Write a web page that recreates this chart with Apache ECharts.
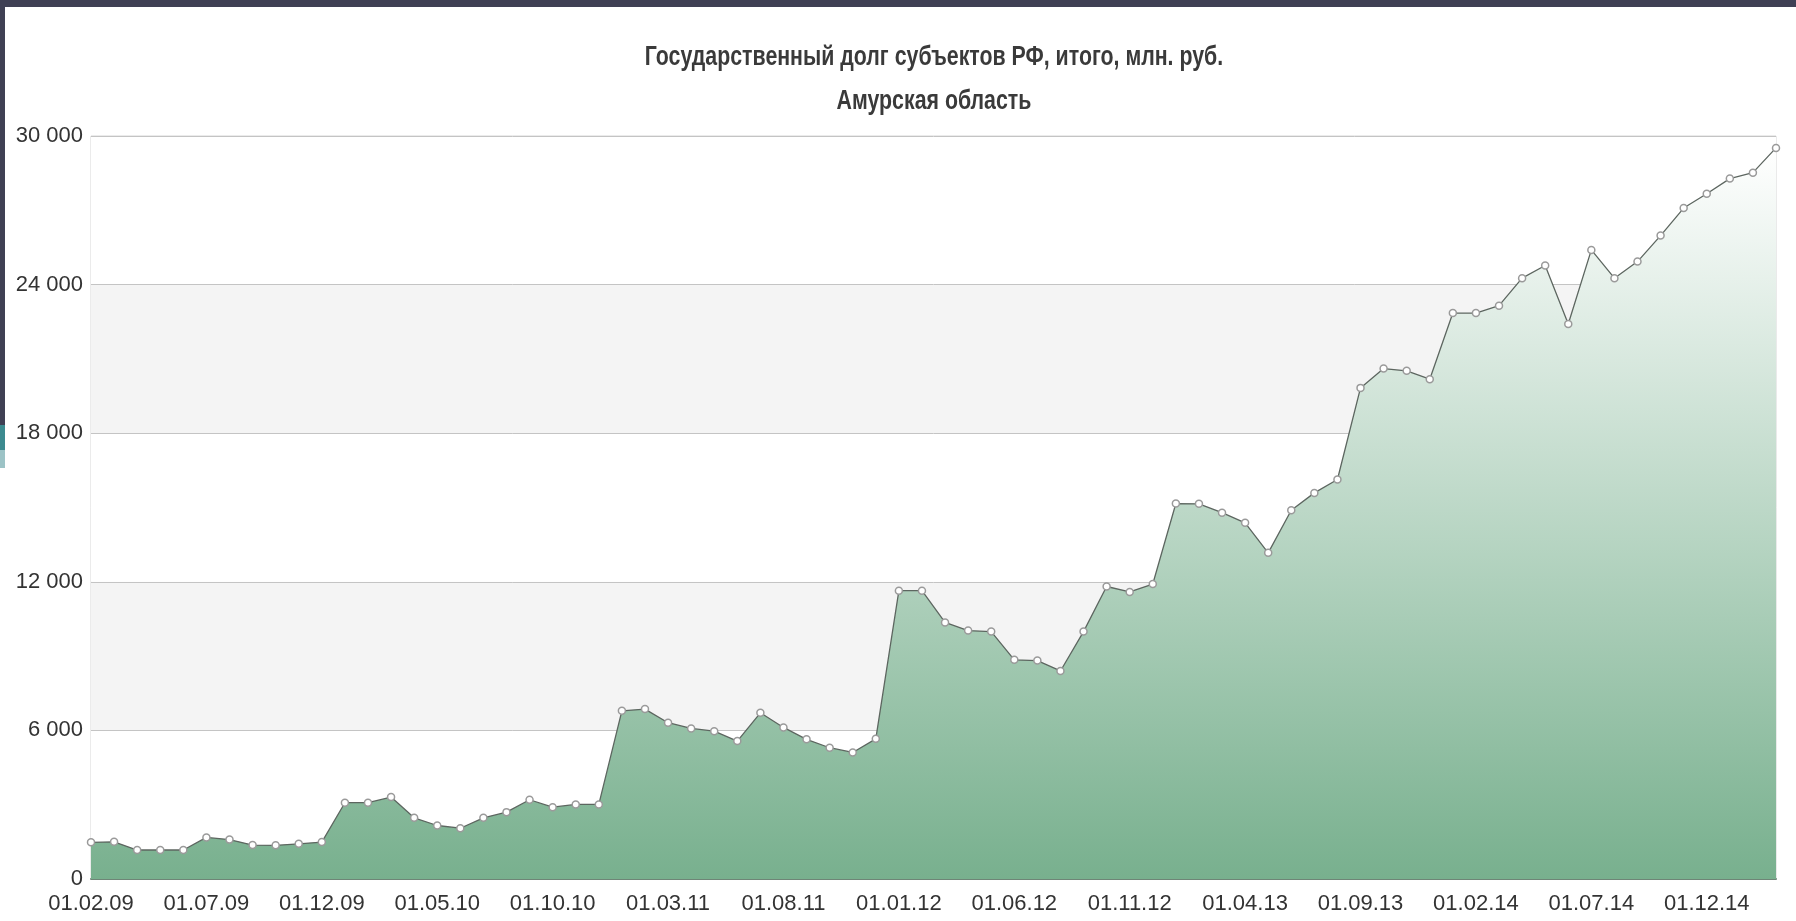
<!DOCTYPE html>
<html>
<head>
<meta charset="utf-8">
<title>Госдолг Амурская область</title>
<script src="https://cdn.jsdelivr.net/npm/echarts@6/dist/echarts.min.js"></script>
<style>
  html, body {
    margin: 0;
    padding: 0;
    background: #fff;
    overflow: hidden;
  }
  .frame-top {
    position: absolute;
    left: 0;
    top: 0;
    width: 1796px;
    height: 7px;
    background: #3f4054;
  }
  .frame-left {
    position: absolute;
    left: 0;
    top: 0;
    width: 5px;
    height: 425px;
    background: #3f4054;
  }
  .frame-teal {
    position: absolute;
    left: 0;
    top: 425px;
    width: 5px;
    height: 25px;
    background: #3c8a8f;
  }
  .frame-teal2 {
    position: absolute;
    left: 0;
    top: 450px;
    width: 5px;
    height: 18px;
    background: #9cc3c6;
  }
  #chart {
    width: 1796px;
    height: 921px;
  }
</style>
</head>
<body>
<div id="chart"></div>
<div class="frame-top"></div>
<div class="frame-left"></div>
<div class="frame-teal"></div>
<div class="frame-teal2"></div>
<script>
  var FONT = "'Liberation Sans', Arial, sans-serif"

  // государственный долг, млн. руб., на 1-е число месяца (02.2009 - 03.2015)
  var debt = [
    1480, 1500, 1170, 1170, 1170, 1680, 1590, 1370, 1360, 1420, 1490,
    3080, 3080, 3310, 2470, 2160, 2050, 2470, 2700, 3200, 2900, 3010,
    3010, 6790, 6860, 6310, 6080, 5970, 5570, 6710, 6120, 5640, 5300,
    5110, 5660, 11640, 11640, 10360, 10030, 9990, 8850, 8820, 8400, 9990,
    11810, 11590, 11910, 15160, 15150, 14790, 14380, 13170, 14890, 15590, 16130,
    19830, 20610, 20520, 20180, 22850, 22850, 23150, 24260, 24770, 22410, 25400,
    24260, 24930, 25980, 27090, 27670, 28280, 28520, 29520
  ]

  // подписи дат: 01.мм.гг начиная с февраля 2009
  var dates = []
  for (var i = 0; i < debt.length; i++) {
    var m = (1 + i) % 12 + 1
    var y = 9 + Math.floor((1 + i) / 12)
    dates.push('01.' + (m < 10 ? '0' + m : m) + '.' + (y < 10 ? '0' + y : y))
  }

  var option = {
    animation: false,
    // заголовок узкий, как на слайде — сжимаем по горизонтали
    graphic: [
      {
        type: 'text',
        x: 934,
        y: 58,
        scaleX: 0.79,
        style: {
          text: 'Государственный долг субъектов РФ, итого, млн. руб.',
          font: 'bold 27px ' + FONT,
          fill: '#3a3a3a',
          textAlign: 'center',
          textVerticalAlign: 'middle'
        }
      },
      {
        type: 'text',
        x: 934,
        y: 102,
        scaleX: 0.79,
        style: {
          text: 'Амурская область',
          font: 'bold 27px ' + FONT,
          fill: '#3a3a3a',
          textAlign: 'center',
          textVerticalAlign: 'middle'
        }
      }
    ],
    grid: {
      left: 91,
      right: 20,
      top: 136,
      bottom: 42,
      show: true,
      borderColor: '#d6d6d6',
      borderWidth: 1
    },
    xAxis: {
      type: 'category',
      boundaryGap: false,
      data: dates,
      axisLine: {
        lineStyle: { color: '#6f8577', width: 2 }
      },
      axisTick: { show: false },
      axisLabel: {
        interval: 4,
        margin: 14,
        fontFamily: FONT,
        fontSize: 22,
        color: '#333'
      }
    },
    yAxis: {
      type: 'value',
      min: 0,
      max: 30000,
      interval: 6000,
      axisLine: { show: false },
      axisTick: { show: false },
      axisLabel: {
        margin: 8,
        fontFamily: FONT,
        fontSize: 22,
        color: '#333',
        formatter: function (v) {
          return String(v).replace(/\B(?=(\d{3})+(?!\d))/g, ' ')
        }
      },
      splitLine: {
        lineStyle: { color: '#c4c4c4' }
      },
      splitArea: {
        show: true,
        areaStyle: { color: ['#ffffff', '#f4f4f4'] }
      }
    },
    series: [
      {
        type: 'line',
        data: debt,
        symbol: 'circle',
        symbolSize: 7,
        showAllSymbol: true,
        itemStyle: {
          color: '#ffffff',
          borderColor: '#9a9a9a',
          borderWidth: 1.5
        },
        lineStyle: {
          color: '#5d6660',
          width: 1.3
        },
        areaStyle: {
          opacity: 1,
          color: new echarts.graphic.LinearGradient(0, 0, 0, 1, [
            { offset: 0, color: '#ffffff' },
            { offset: 1, color: '#78b08e' }
          ])
        }
      }
    ]
  }

  var chart = echarts.init(document.getElementById('chart'))
  chart.setOption(option)
</script>
</body>
</html>
